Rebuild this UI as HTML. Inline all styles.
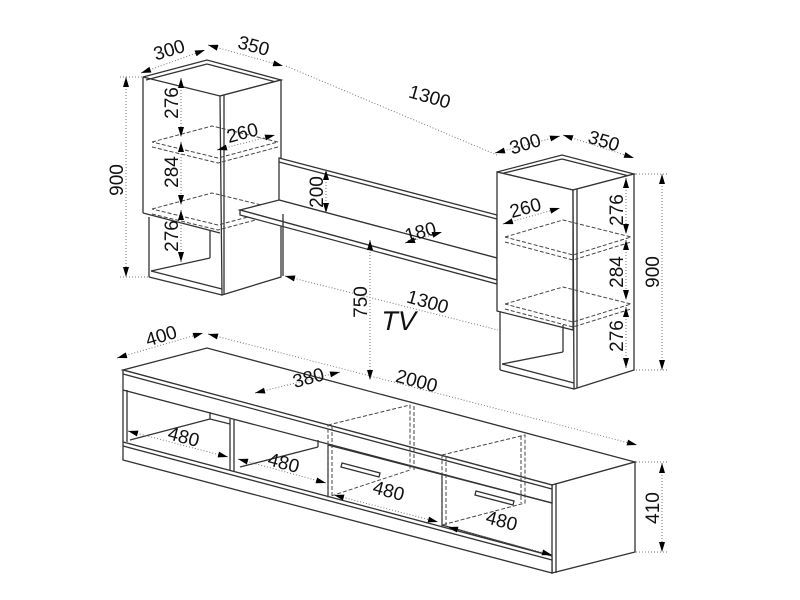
<!DOCTYPE html>
<html><head><meta charset="utf-8"><style>
html,body{margin:0;padding:0;background:#fff}
svg{display:block}
text{font-family:"Liberation Sans",sans-serif;font-size:19px;fill:#111}
.s{stroke:#333;stroke-width:1.3;fill:none}
.w{stroke:#333;stroke-width:1.3;fill:#fff}
.d{stroke:#444;stroke-width:1;fill:none;stroke-dasharray:4,2}
.m{stroke:#777;stroke-width:1;fill:none;stroke-dasharray:1,2}
</style></head><body>
<svg width="800" height="600" viewBox="0 0 800 600" xmlns="http://www.w3.org/2000/svg">
<defs>
<marker id="a" viewBox="0 0 10 6" refX="10" refY="3" markerWidth="14" markerHeight="6" markerUnits="userSpaceOnUse" orient="auto-start-reverse"><path d="M0,0L10,3L0,6z" fill="#000"/></marker>
</defs>

<!-- LEFT CABINET -->
<polygon class="w" points="143,77 207,60 281,80 220,96"/>
<line class="s" x1="146" y1="80" x2="207" y2="64"/>
<line class="s" x1="207" y1="64" x2="276" y2="82"/>
<line class="s" x1="143" y1="77" x2="143" y2="213"/>
<line class="s" x1="143" y1="213" x2="220" y2="233"/>
<polygon class="w" points="220,96 281,80 281,277 222,295"/>
<line class="s" x1="224" y1="95" x2="224" y2="294"/>
<line class="s" x1="149" y1="217" x2="149" y2="277"/>
<line class="s" x1="149" y1="277" x2="222" y2="295"/>
<line class="s" x1="151" y1="271" x2="222" y2="289"/>
<line class="s" x1="151" y1="271" x2="210" y2="258"/>
<line class="s" x1="210" y1="230" x2="210" y2="258"/>
<g class="d">
<polyline points="152,142 212,126 278,142 218,158 152,142"/><polyline points="152,147 218,163 278,147"/>
<polyline points="152,209 212,193 278,209 218,225 152,209"/><polyline points="152,214 218,230 278,214"/>
</g>

<!-- WALL SHELF -->
<polygon class="w" points="279,158 497,215 497,258 279,200"/>
<line class="s" x1="279" y1="162" x2="497" y2="219"/>
<polygon class="w" points="240,210 279,200 497,258 497,280"/>
<polygon class="w" points="240,210 497,280 497,284 240,215"/>
<line class="s" x1="283" y1="214" x2="283" y2="276"/>

<!-- RIGHT CABINET -->
<polygon class="w" points="497,172 562,155 634,174 573,190"/>
<line class="s" x1="500" y1="174" x2="562" y2="159"/>
<line class="s" x1="562" y1="159" x2="629" y2="176"/>
<polygon class="w" points="497,172 573,190 573,330 497,311"/>
<polygon class="w" points="573,190 634,174 634,370 574,389"/>
<line class="s" x1="577" y1="189" x2="577" y2="388"/>
<line class="s" x1="500" y1="312" x2="500" y2="370"/>
<line class="s" x1="500" y1="370" x2="574" y2="389"/>
<line class="s" x1="502" y1="364" x2="574" y2="383"/>
<line class="s" x1="502" y1="364" x2="563" y2="352"/>
<line class="s" x1="563" y1="325" x2="563" y2="352"/>
<g class="d">
<polyline points="505,237 563,220 631,237 573,255 505,237"/><polyline points="505,242 573,260 631,242"/>
<polyline points="505,304 563,287 631,304 573,322 505,304"/><polyline points="505,309 573,327 631,309"/>
</g>

<!-- TV UNIT -->
<polygon class="w" points="123,370 207,348 635,462 552,485"/>
<polygon class="w" points="552,485 635,462 635,552 552,573"/>
<line class="s" x1="556" y1="484" x2="556" y2="573"/>
<polygon class="w" points="123,370 552,485 552,503 123,390"/>
<line class="s" x1="123" y1="374" x2="552" y2="489"/>
<line class="s" x1="127" y1="390" x2="127" y2="442"/>
<line class="s" x1="123" y1="390" x2="123" y2="442"/>
<line class="s" x1="130" y1="440" x2="210" y2="419"/>
<line class="s" x1="210" y1="412" x2="210" y2="419"/>
<line class="s" x1="210" y1="419" x2="230" y2="424"/>
<line class="s" x1="240" y1="467" x2="318" y2="447"/>
<line class="s" x1="318" y1="440" x2="318" y2="447"/>
<line class="s" x1="230" y1="419" x2="230" y2="471"/>
<line class="s" x1="234" y1="420" x2="234" y2="472"/>
<line class="s" x1="328" y1="445" x2="328" y2="497"/>
<line class="s" x1="442" y1="475" x2="442" y2="527"/>
<line class="s" x1="328" y1="445" x2="552" y2="503"/>
<line class="s" x1="442" y1="525" x2="552" y2="556"/>
<polygon class="w" points="123,442 552,556 552,573 123,460"/>
<line class="s" x1="123" y1="446" x2="552" y2="560"/>
<polygon class="w" points="342,463 380,473 379,477 341,467"/>
<polygon class="w" points="476,491 514,501 513,505 475,495"/>
<g class="d">
<polyline points="328,425 410,405 410,470 328,497 328,425"/><line x1="332" y1="426" x2="332" y2="497"/><line x1="414" y1="406" x2="414" y2="470"/>
<polyline points="442,455 525,435 525,503 442,525 442,455"/><line x1="446" y1="456" x2="446" y2="525"/><line x1="521" y1="436" x2="521" y2="503"/>
</g>

<!-- DIMENSIONS -->
<g class="m">
<line x1="141" y1="73" x2="205" y2="50" marker-start="url(#a)" marker-end="url(#a)"/>
<line x1="208" y1="45" x2="283" y2="66" marker-start="url(#a)" marker-end="url(#a)"/>
<line x1="286" y1="66" x2="497" y2="155"/>
<line x1="126" y1="77" x2="126" y2="277" marker-start="url(#a)" marker-end="url(#a)"/>
<line x1="120" y1="77" x2="143" y2="77"/><line x1="120" y1="277" x2="150" y2="277"/>
<line x1="181" y1="78" x2="181" y2="137" marker-start="url(#a)" marker-end="url(#a)"/>
<line x1="181" y1="142" x2="181" y2="205" marker-start="url(#a)" marker-end="url(#a)"/>
<line x1="181" y1="210" x2="181" y2="262" marker-start="url(#a)" marker-end="url(#a)"/>
<line x1="217" y1="150" x2="275" y2="135" marker-start="url(#a)" marker-end="url(#a)"/>
<line x1="326" y1="170" x2="326" y2="213" marker-start="url(#a)" marker-end="url(#a)"/>
<line x1="405" y1="243" x2="442" y2="232" marker-start="url(#a)" marker-end="url(#a)"/>
<line x1="370" y1="240" x2="370" y2="380" marker-start="url(#a)" marker-end="url(#a)"/>
<line x1="285" y1="276" x2="498" y2="330" marker-start="url(#a)"/>
<line x1="495" y1="153" x2="560" y2="136" marker-start="url(#a)" marker-end="url(#a)"/>
<line x1="563" y1="135" x2="634" y2="158" marker-start="url(#a)" marker-end="url(#a)"/>
<line x1="503" y1="224" x2="560" y2="208" marker-start="url(#a)" marker-end="url(#a)"/>
<line x1="626" y1="178" x2="626" y2="234" marker-start="url(#a)" marker-end="url(#a)"/>
<line x1="626" y1="240" x2="626" y2="300" marker-start="url(#a)" marker-end="url(#a)"/>
<line x1="626" y1="307" x2="626" y2="368" marker-start="url(#a)" marker-end="url(#a)"/>
<line x1="662" y1="174" x2="662" y2="370" marker-start="url(#a)" marker-end="url(#a)"/>
<line x1="636" y1="174" x2="668" y2="174"/><line x1="636" y1="370" x2="668" y2="370"/>
<line x1="117" y1="358" x2="203" y2="333" marker-start="url(#a)" marker-end="url(#a)"/>
<line x1="208" y1="334" x2="637" y2="445" marker-start="url(#a)" marker-end="url(#a)"/>
<line x1="255" y1="393" x2="340" y2="372" marker-start="url(#a)" marker-end="url(#a)"/>
<line x1="128" y1="431" x2="228" y2="457" marker-start="url(#a)" marker-end="url(#a)"/>
<line x1="238" y1="459" x2="326" y2="483" marker-start="url(#a)" marker-end="url(#a)"/>
<line x1="334" y1="495" x2="438" y2="522" marker-start="url(#a)" marker-end="url(#a)"/>
<line x1="448" y1="527" x2="552" y2="555" marker-start="url(#a)" marker-end="url(#a)"/>
<line x1="662" y1="463" x2="662" y2="552" marker-start="url(#a)" marker-end="url(#a)"/>
<line x1="636" y1="462" x2="668" y2="462"/><line x1="636" y1="552" x2="668" y2="552"/>
</g>

<g>
<text transform="translate(171,56) rotate(-17)" text-anchor="middle">300</text>
<text transform="translate(252,52) rotate(15)" text-anchor="middle">350</text>
<text transform="translate(428,103) rotate(16)" text-anchor="middle">1300</text>
<text transform="translate(123,180) rotate(-90)" text-anchor="middle">900</text>
<text transform="translate(178,103) rotate(-90)" text-anchor="middle">276</text>
<text transform="translate(178,172) rotate(-90)" text-anchor="middle">284</text>
<text transform="translate(178,236) rotate(-90)" text-anchor="middle">276</text>
<text transform="translate(244,139) rotate(-15)" text-anchor="middle">260</text>
<text transform="translate(323,192) rotate(-90)" text-anchor="middle">200</text>
<text transform="translate(422,238) rotate(-15)" text-anchor="middle">180</text>
<text transform="translate(367,302) rotate(-90)" text-anchor="middle">750</text>
<text transform="translate(397,330) skewX(-12)" text-anchor="middle" style="font-size:27px">TV</text>
<text transform="translate(426,308) rotate(16)" text-anchor="middle">1300</text>
<text transform="translate(527,150) rotate(-17)" text-anchor="middle">300</text>
<text transform="translate(602,147) rotate(17)" text-anchor="middle">350</text>
<text transform="translate(527,214) rotate(-15)" text-anchor="middle">260</text>
<text transform="translate(623,210) rotate(-90)" text-anchor="middle">276</text>
<text transform="translate(623,272) rotate(-90)" text-anchor="middle">284</text>
<text transform="translate(623,336) rotate(-90)" text-anchor="middle">276</text>
<text transform="translate(659,272) rotate(-90)" text-anchor="middle">900</text>
<text transform="translate(163,342) rotate(-17)" text-anchor="middle">400</text>
<text transform="translate(310,384) rotate(-15)" text-anchor="middle">380</text>
<text transform="translate(415,387) rotate(15)" text-anchor="middle">2000</text>
<text transform="translate(182,443) rotate(15)" text-anchor="middle">480</text>
<text transform="translate(282,469) rotate(15)" text-anchor="middle">480</text>
<text transform="translate(387,497) rotate(15)" text-anchor="middle">480</text>
<text transform="translate(500,527) rotate(15)" text-anchor="middle">480</text>
<text transform="translate(659,508) rotate(-90)" text-anchor="middle">410</text>
</g>
</svg>
</body></html>
